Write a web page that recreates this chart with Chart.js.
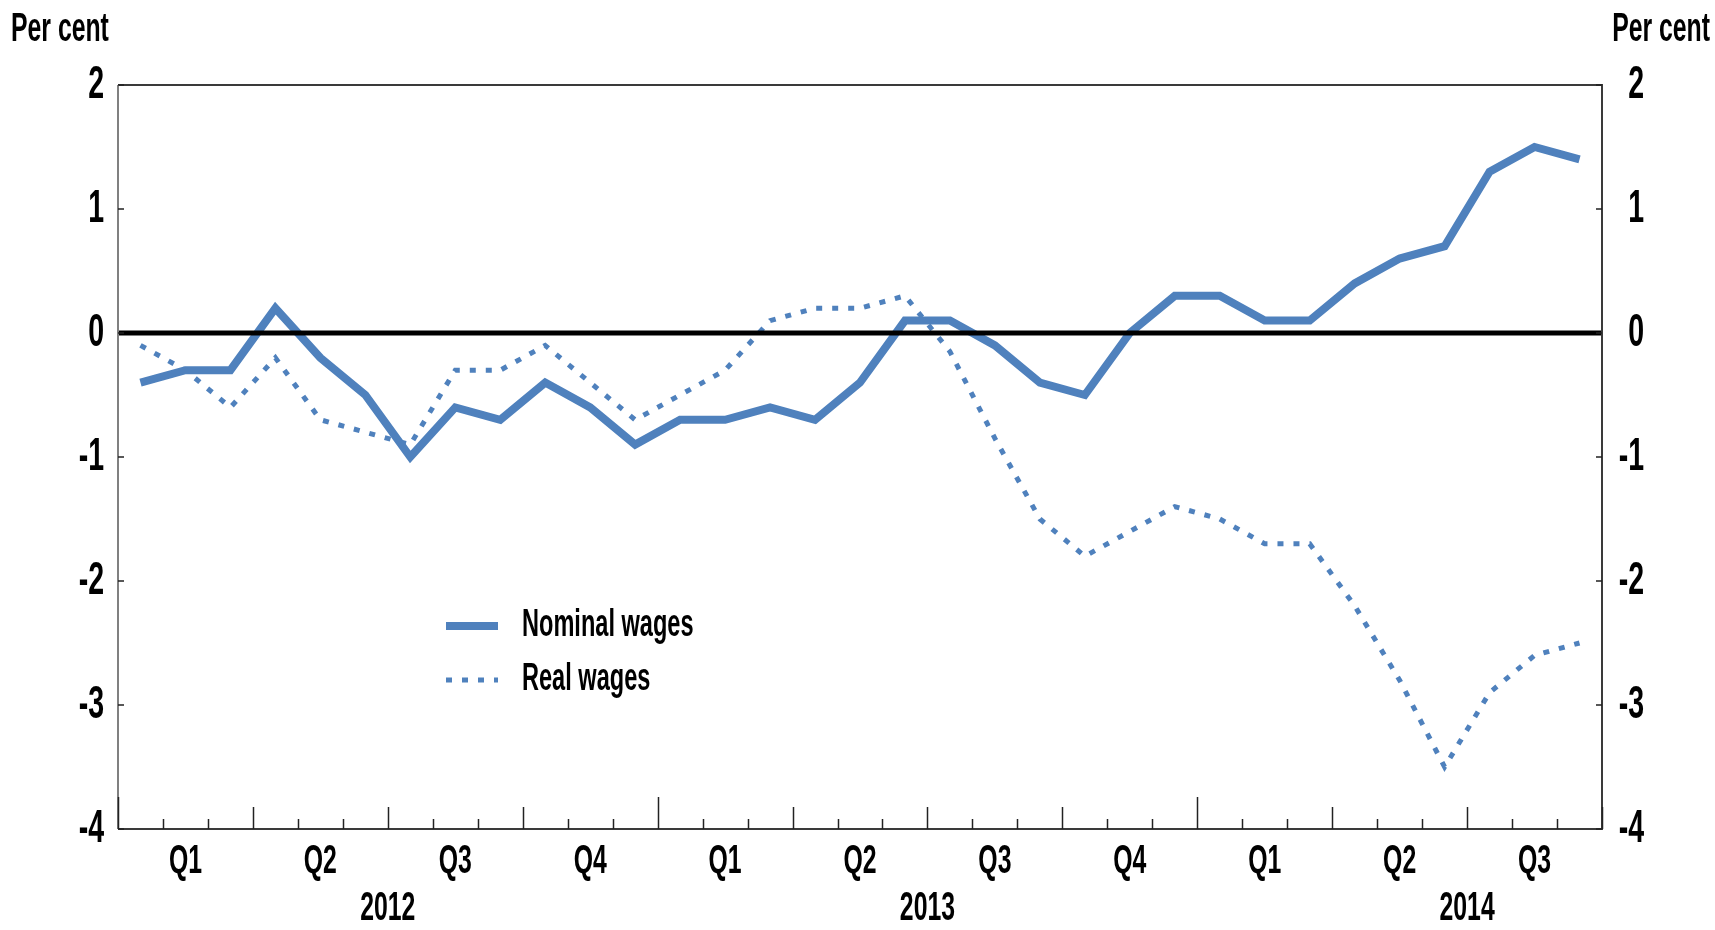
<!DOCTYPE html>
<html lang="en">
<head>
<meta charset="UTF-8">
<title>Nominal and real wages</title>
<script src="https://cdn.jsdelivr.net/npm/chart.js"></script>
<style>
    html, body { margin: 0; padding: 0; background: #fff; }
    canvas { display: block; }
</style>
</head>
<body>
<canvas id="wagesChart" width="1715" height="930"></canvas>
<script>
    // monthly, Jan 2012 - Sep 2014, per cent
    const months = [
        '2012-01', '2012-02', '2012-03', '2012-04', '2012-05', '2012-06',
        '2012-07', '2012-08', '2012-09', '2012-10', '2012-11', '2012-12',
        '2013-01', '2013-02', '2013-03', '2013-04', '2013-05', '2013-06',
        '2013-07', '2013-08', '2013-09', '2013-10', '2013-11', '2013-12',
        '2014-01', '2014-02', '2014-03', '2014-04', '2014-05', '2014-06',
        '2014-07', '2014-08', '2014-09'
    ];
    const nominalWages = [
        -0.4, -0.3, -0.3, 0.2, -0.2, -0.5, -1.0, -0.6, -0.7, -0.4, -0.6, -0.9,
        -0.7, -0.7, -0.6, -0.7, -0.4, 0.1, 0.1, -0.1, -0.4, -0.5, 0.0, 0.3,
        0.3, 0.1, 0.1, 0.4, 0.6, 0.7, 1.3, 1.5, 1.4
    ];
    const realWages = [
        -0.1, -0.3, -0.6, -0.2, -0.7, -0.8, -0.9, -0.3, -0.3, -0.1, -0.4, -0.7,
        -0.5, -0.3, 0.1, 0.2, 0.2, 0.3, -0.15, -0.85, -1.5, -1.8, -1.6, -1.4,
        -1.5, -1.7, -1.7, -2.2, -2.8, -3.5, -2.9, -2.6, -2.5
    ];
    const quarterLabels = ['Q1', 'Q2', 'Q3', 'Q4', 'Q1', 'Q2', 'Q3', 'Q4', 'Q1', 'Q2', 'Q3'];
    const yearLabels = ['2012', '2013', '2014'];
    const unitLabel = 'Per cent';

    const BLUE = '#4F81BD';
    const FONT = '"Liberation Sans Narrow", "Arial Narrow", "Liberation Sans", Arial, sans-serif';
    const SX = 0.62; // the original lettering is condensed

    function squeezedText(ctx, text, x, y, size, align) {
        ctx.save();
        ctx.font = 'bold ' + size + 'px ' + FONT;
        ctx.fillStyle = '#000';
        ctx.textAlign = align;
        ctx.textBaseline = 'middle';
        ctx.translate(x, y);
        ctx.scale(SX, 1);
        ctx.fillText(text, 0, 0);
        ctx.restore();
    }

    // frame, inward ticks, zero line and all the lettering
    const axesPlugin = {
        id: 'oecdAxes',
        afterDatasetsDraw(chart) {
            const ctx = chart.ctx;
            const area = chart.chartArea;
            const x = chart.scales.x;
            const y = chart.scales.y;

            // zero line
            ctx.save();
            ctx.strokeStyle = '#000';
            ctx.lineWidth = 5;
            ctx.beginPath();
            ctx.moveTo(area.left, y.getPixelForValue(0));
            ctx.lineTo(area.right, y.getPixelForValue(0));
            ctx.stroke();

            // frame
            ctx.lineWidth = 2;
            ctx.strokeStyle = '#3a3a3a';
            ctx.beginPath();
            ctx.moveTo(area.left, area.top);
            ctx.lineTo(area.right, area.top);
            ctx.lineTo(area.right, area.bottom);
            ctx.lineTo(area.left, area.bottom);
            ctx.stroke();
            ctx.strokeStyle = '#808080';
            ctx.beginPath();
            ctx.moveTo(area.left, area.top);
            ctx.lineTo(area.left, area.bottom);
            ctx.stroke();

            // month / quarter / year ticks on the bottom axis
            ctx.strokeStyle = '#222';
            ctx.lineWidth = 1.5;
            for (let k = 0; k <= months.length; k++) {
                const px = Math.round(x.getPixelForValue(k - 0.5)) + 0.5;
                const len = k % 12 === 0 ? 32 : (k % 3 === 0 ? 22 : 10);
                ctx.beginPath();
                ctx.moveTo(px, area.bottom);
                ctx.lineTo(px, area.bottom - len);
                ctx.stroke();
            }

            // value ticks on both sides
            y.ticks.forEach(t => {
                const py = y.getPixelForValue(t.value);
                ctx.beginPath();
                ctx.moveTo(area.left, py);
                ctx.lineTo(area.left + 6, py);
                ctx.moveTo(area.right, py);
                ctx.lineTo(area.right - 6, py);
                ctx.stroke();
                squeezedText(ctx, String(t.value), area.left - 14, py, 46, 'right');
                squeezedText(ctx, String(t.value), area.right + 42, py, 46, 'right');
            });
            ctx.restore();

            quarterLabels.forEach((q, i) => {
                squeezedText(ctx, q, x.getPixelForValue(3 * i + 1), area.bottom + 33, 40, 'center');
            });
            yearLabels.forEach((yr, i) => {
                squeezedText(ctx, yr, x.getPixelForValue(12 * i + 5.5), area.bottom + 80, 40, 'center');
            });

            squeezedText(ctx, unitLabel, 11, 30, 40, 'left');
            squeezedText(ctx, unitLabel, chart.width - 5, 30, 40, 'right');

            // legend
            chart.data.datasets.forEach((ds, i) => {
                const ly = 626 + i * 54;
                ctx.save();
                ctx.strokeStyle = ds.borderColor;
                ctx.lineWidth = ds.borderWidth;
                ctx.setLineDash(ds.borderDash || []);
                ctx.beginPath();
                ctx.moveTo(446, ly);
                ctx.lineTo(498, ly);
                ctx.stroke();
                ctx.restore();
                squeezedText(ctx, ds.label, 522, ly, 38, 'left');
            });
        }
    };

    const ctx = document.getElementById('wagesChart').getContext('2d');
    new Chart(ctx, {
        type: 'line',
        data: {
            labels: months,
            datasets: [{
                label: 'Nominal wages',
                data: nominalWages,
                borderColor: BLUE,
                borderWidth: 8,
                borderJoinStyle: 'miter',
                pointRadius: 0,
                tension: 0
            }, {
                label: 'Real wages',
                data: realWages,
                borderColor: BLUE,
                borderWidth: 5,
                borderDash: [6, 10],
                borderCapStyle: 'butt',
                pointRadius: 0,
                tension: 0
            }]
        },
        options: {
            responsive: false,
            animation: false,
            devicePixelRatio: 1,
            layout: { padding: { top: 85, left: 0, right: 0, bottom: 0 } },
            plugins: { legend: { display: false }, tooltip: { enabled: false } },
            scales: {
                x: {
                    offset: true,
                    grid: { display: false },
                    border: { display: false },
                    ticks: { display: false },
                    afterFit: s => { s.height = 101; }
                },
                y: {
                    position: 'left',
                    min: -4,
                    max: 2,
                    ticks: { display: false, stepSize: 1 },
                    grid: { display: false },
                    border: { display: false },
                    afterFit: s => { s.width = 118; }
                },
                y2: {
                    position: 'right',
                    min: -4,
                    max: 2,
                    ticks: { display: false, stepSize: 1 },
                    grid: { display: false },
                    border: { display: false },
                    afterFit: s => { s.width = 113; }
                }
            }
        },
        plugins: [axesPlugin]
    });
</script>
</body>
</html>
